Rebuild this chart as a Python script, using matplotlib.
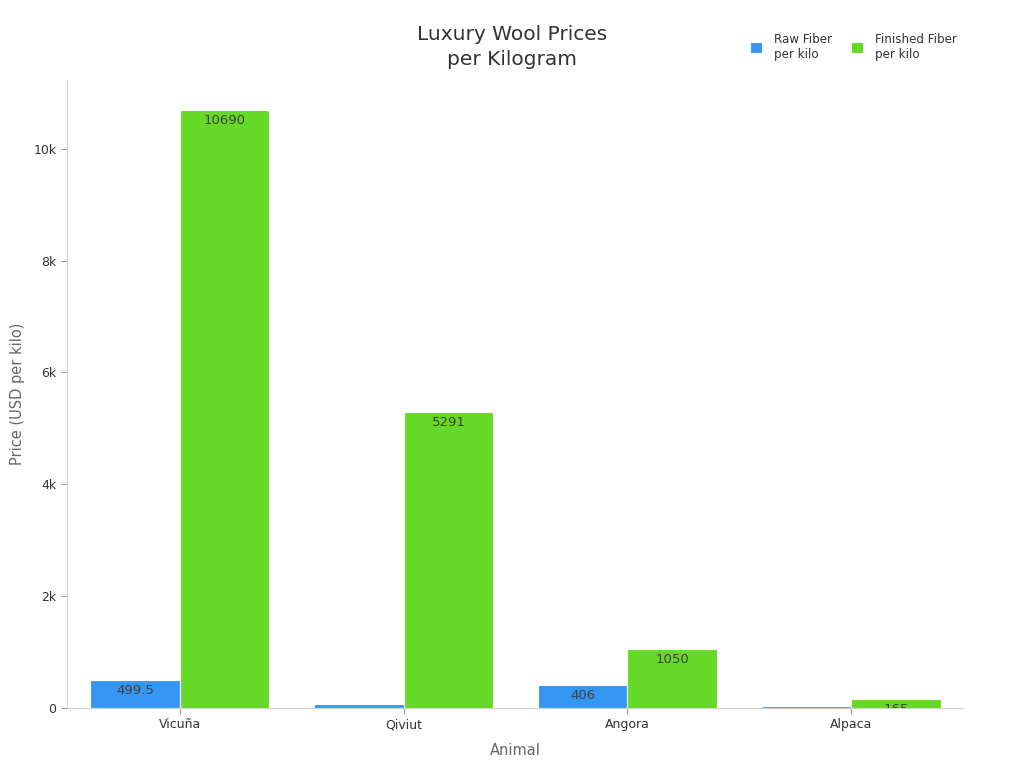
import numpy as np
import matplotlib.pyplot as plt
from matplotlib.ticker import FuncFormatter

animals = ["Vicuña", "Qiviut", "Angora", "Alpaca"]
raw = [499.5, 72, 406, 33]
finished = [10690, 5291, 1050, 165]
raw_labels = ["499.5", "72", "406", "33"]
fin_labels = ["10690", "5291", "1050", "165"]

blue = "#3496f3"
green = "#66d927"

fig = plt.figure(figsize=(10.24, 7.68), dpi=100)
ax = fig.add_axes([67/1024, 60/768, 896/1024, 628/768])

x = np.arange(len(animals))
w = 0.4
b1 = ax.bar(x - w/2, raw, w, color=blue, edgecolor="white", linewidth=0.8)
b2 = ax.bar(x + w/2, finished, w, color=green, edgecolor="white", linewidth=0.8)

# labels sit just inside the top of each bar and get cut off by small bars
for bars, labs in ((b1, raw_labels), (b2, fin_labels)):
    for r, lab in zip(bars, labs):
        t = ax.text(r.get_x() + r.get_width()/2, r.get_height() - 75, lab,
                    ha="center", va="top", fontsize=9.5, color="#404040")
        t.set_clip_on(True)
        t.set_clip_path(r)

ax.set_xlim(-0.505, 3.5)
ax.set_ylim(0, 11230)
ax.set_xticks(x)
ax.set_xticklabels(animals, fontsize=9, color="#333333")
ax.set_yticks([0, 2000, 4000, 6000, 8000, 10000])
ax.yaxis.set_major_formatter(FuncFormatter(lambda v, p: "0" if v == 0 else f"{int(v/1000)}k"))
ax.tick_params(axis="y", labelsize=9, colors="#333333", length=4, color="#999999")
ax.tick_params(axis="x", length=4, color="#999999")
for s in ("top", "right"):
    ax.spines[s].set_visible(False)
for s in ("left", "bottom"):
    ax.spines[s].set_color("#d0d0d0")

ax.set_xlabel("Animal", fontsize=10.5, color="#666666", labelpad=8)
ax.set_ylabel("Price (USD per kilo)", fontsize=10.5, color="#666666", labelpad=6)

fig.text(512/1024, 1 - 47/768, "Luxury Wool Prices\nper Kilogram", ha="center", va="center",
         fontsize=14.5, color="#333333", linespacing=1.35)

leg = fig.legend([b1, b2], ["Raw Fiber\nper kilo", "Finished Fiber\nper kilo"],
                 loc="upper right", bbox_to_anchor=(968/1024, 1 - 22/768), ncol=2,
                 frameon=False, fontsize=8.6, handlelength=1.0, handleheight=1.0,
                 columnspacing=1.6, handletextpad=1.0)
for t in leg.get_texts():
    t.set_color("#333333")

fig.savefig("out.png", dpi=100)
